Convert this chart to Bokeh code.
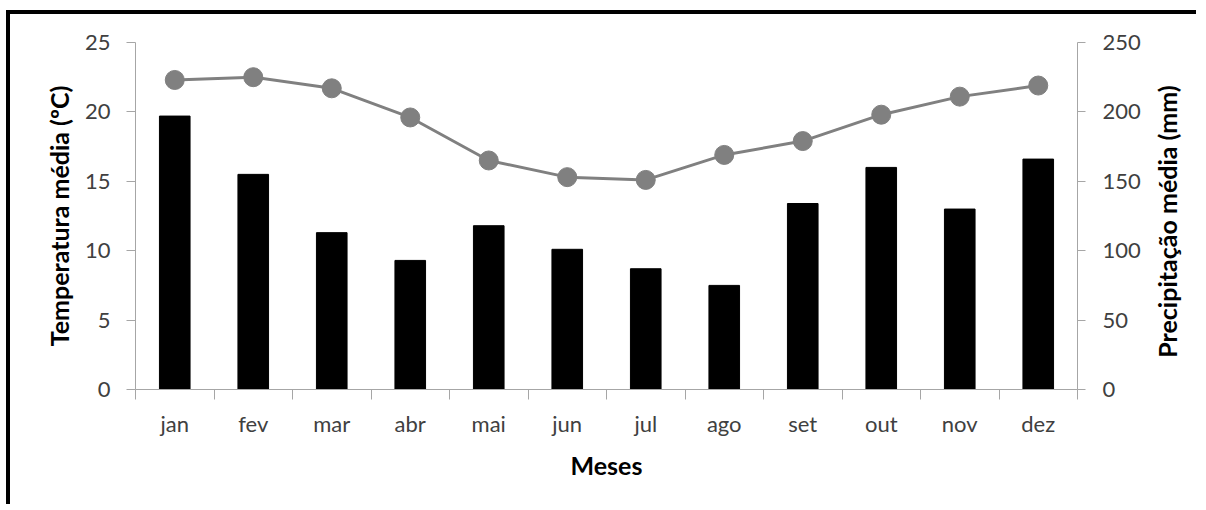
import math
from bokeh.plotting import figure
from bokeh.models import Range1d, LinearAxis, FixedTicker
from bokeh.embed import file_html
from bokeh.resources import INLINE

meses = ["jan", "fev", "mar", "abr", "mai", "jun", "jul", "ago", "set", "out", "nov", "dez"]
temperatura = [22.3, 22.5, 21.7, 19.6, 16.5, 15.3, 15.1, 16.9, 17.9, 19.8, 21.1, 21.9]
precipitacao = [197, 155, 113, 93, 118, 101, 87, 75, 134, 160, 130, 166]
temp_ticks = [0, 5, 10, 15, 20, 25]
prec_ticks = [0, 50, 100, 150, 200, 250]
titulo_x = "Meses"
titulo_esq = "Temperatura média (ºC)"
titulo_dir = "Precipitação média (mm)"

xs = list(range(1, len(meses) + 1))
AX = "#a6a6a6"
TXT = "#404040"
FONT = "Lato"

p = figure(width=1190, height=494, x_range=Range1d(0.5, len(meses) + 0.5),
           y_range=Range1d(0, 25), output_backend="svg", toolbar_location=None,
           min_border_left=125, min_border_right=122, min_border_top=28, min_border_bottom=119)
p.styles = {"border-left": "4px solid black", "border-top": "4px solid black",
            "margin-left": "6px", "margin-top": "10px"}
p.extra_y_ranges = {"prec": Range1d(0, 250)}
p.outline_line_color = None
p.xgrid.visible = False
p.ygrid.visible = False

p.vbar(x=xs, top=precipitacao, width=0.39, y_range_name="prec",
       fill_color="black", line_color="black")
p.line(xs, temperatura, line_color="#808080", line_width=3)
p.scatter(xs, temperatura, size=19, fill_color="#808080", line_color="#808080")

# x axis
xa = p.xaxis[0]
xa.ticker = FixedTicker(ticks=xs, minor_ticks=[i + 0.5 for i in range(0, len(meses) + 1)])
xa.major_label_overrides = {x: m for x, m in zip(xs, meses)}
xa.major_tick_line_color = None
xa.major_tick_out = 0
xa.major_tick_in = 0
xa.minor_tick_out = 10
xa.minor_tick_in = 0
xa.minor_tick_line_color = AX
xa.axis_line_color = AX
xa.major_label_standoff = 10
xa.axis_label = titulo_x
xa.axis_label_standoff = 10

# left axis
ya = p.yaxis[0]
ya.ticker = FixedTicker(ticks=temp_ticks)
ya.axis_label = titulo_esq
ya.major_tick_out = 9
ya.major_tick_in = 0
ya.minor_tick_line_color = None
ya.major_tick_line_color = AX
ya.axis_line_color = AX
ya.major_label_standoff = 16
ya.axis_label_standoff = 8

# right axis
ra = LinearAxis(y_range_name="prec", ticker=FixedTicker(ticks=prec_ticks))
ra.major_tick_out = 8
ra.major_tick_in = 0
ra.minor_tick_line_color = None
ra.major_tick_line_color = AX
ra.axis_line_color = AX
ra.major_label_standoff = 17
p.add_layout(ra, "right")

# right title drawn as a rotated label of a bare axis (reads bottom-to-top)
meio = (prec_ticks[0] + prec_ticks[-1]) / 2
rt = LinearAxis(y_range_name="prec", ticker=FixedTicker(ticks=[meio]))
rt.major_label_overrides = {meio: titulo_dir}
rt.major_label_orientation = math.pi / 2
rt.axis_line_color = None
rt.major_tick_line_color = None
rt.minor_tick_line_color = None
rt.major_tick_out = 0
rt.major_tick_in = 0
rt.major_label_standoff = 24
rt.major_label_text_font = FONT
rt.major_label_text_font_size = "25px"
rt.major_label_text_font_style = "bold"
rt.major_label_text_color = "#000000"
p.add_layout(rt, "right")

for ax in [xa, ya, ra]:
    ax.major_label_text_font = FONT
    ax.major_label_text_font_size = "22px"
    ax.major_label_text_color = TXT
    ax.axis_label_text_font = FONT
    ax.axis_label_text_font_size = "25px"
    ax.axis_label_text_font_style = "bold"
    ax.axis_label_text_color = "#000000"

open("out.html", "w").write(file_html(p, INLINE))
